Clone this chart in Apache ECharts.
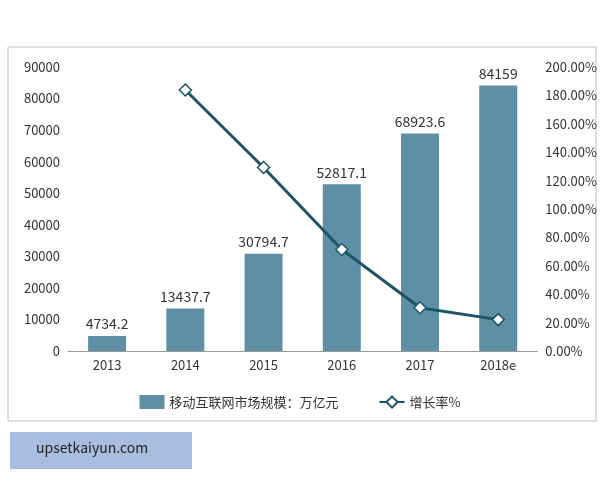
<!DOCTYPE html>
<html><head><meta charset="utf-8">
<script src="https://cdn.jsdelivr.net/npm/echarts@6/dist/echarts.min.js"></script>
<style>body{margin:0;background:#fff}#c{width:600px;height:480px}</style>
</head><body><div id="c"></div>
<script>
const years = ['2013', '2014', '2015', '2016', '2017', '2018e'];
const marketSize = [4734.2, 13437.7, 30794.7, 52817.1, 68923.6, 84159];
const growthRate = [null, 183.8, 129.2, 71.5, 30.5, 22.1];

const chart = echarts.init(document.getElementById('c'));
const font = "'Noto Sans CJK SC', 'Liberation Sans', sans-serif";
chart.setOption({
  textStyle: { fontFamily: font },
  graphic: [
    { type: 'rect', shape: { x: 8, y: 47, width: 588, height: 374 }, style: { fill: 'none', stroke: '#bfbfbf', lineWidth: 1 } },
    { type: 'rect', shape: { x: 10, y: 432, width: 182, height: 37 }, style: { fill: '#a9bedf' } },
    { type: 'text', left: 36, top: 441, style: { text: 'upsetkaiyun.com', fill: '#222', font: '14px ' + font } }
  ],
  grid: { left: 68, right: 62, top: 67, bottom: 129 },
  legend: {
    bottom: 66, itemGap: 40, textStyle: { fontSize: 13, color: '#333' },
    data: [{ name: '移动互联网市场规模：万亿元', icon: 'rect' }, { name: '增长率%' }]
  },
  xAxis: {
    type: 'category', data: years,
    axisTick: { show: false },
    axisLine: { lineStyle: { color: '#999' } },
    axisLabel: { color: '#333', fontSize: 13 }
  },
  yAxis: [{
    type: 'value', min: 0, max: 90000, interval: 10000,
    axisLine: { show: false }, axisTick: { show: false }, splitLine: { show: false },
    axisLabel: { color: '#333', fontSize: 13, formatter: v => String(v) }
  }, {
    type: 'value', min: 0, max: 200, interval: 20,
    axisLine: { show: false }, axisTick: { show: false }, splitLine: { show: false },
    axisLabel: { color: '#333', fontSize: 13, formatter: v => v.toFixed(2) + '%' }
  }],
  series: [{
    name: '移动互联网市场规模：万亿元', type: 'bar', data: marketSize, barWidth: 38,
    itemStyle: { color: '#5e8fa5' },
    label: { show: true, position: 'top', color: '#333', fontSize: 14 }
  }, {
    name: '增长率%', type: 'line', yAxisIndex: 1, data: growthRate,
    symbol: 'diamond', symbolSize: 12,
    lineStyle: { color: '#1d5468', width: 3 },
    itemStyle: { color: '#fff', borderColor: '#1d5468', borderWidth: 1.5 }
  }]
});
</script></body></html>
